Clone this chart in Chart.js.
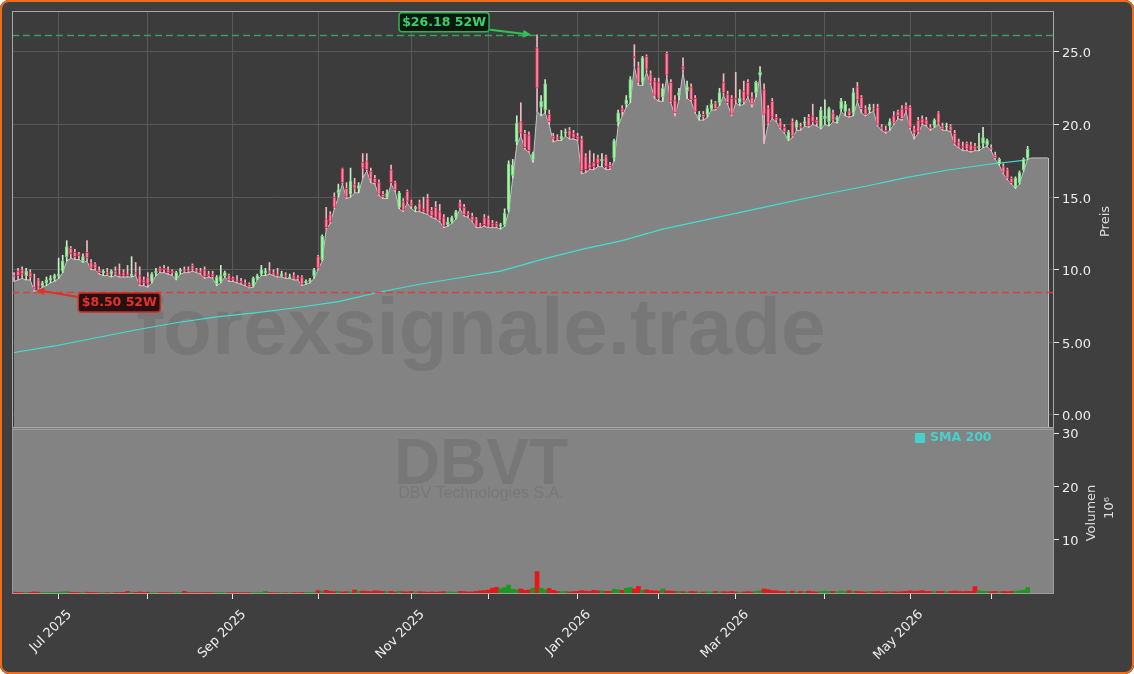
<!DOCTYPE html>
<html>
<head>
<meta charset="utf-8">
<script src="https://cdn.jsdelivr.net/npm/chart.js@4.4.1/dist/chart.umd.min.js"></script>
<style>
    html, body { margin: 0; padding: 0; background: #ffffff; }
    #wrap { position: absolute; left: 0; top: 0; width: 1134px; height: 674px; border-radius: 9px; overflow: hidden; background: #3f3f3f; }
    #frame { position: absolute; left: 0; top: 0; width: 1134px; height: 674px; box-sizing: border-box; border: 2px solid #f36b16; border-radius: 9px; pointer-events: none; }
</style>
</head>
<body>
<div id="wrap"><canvas id="chart"></canvas></div>
<div id="frame"></div>
<script>
'use strict';

// ── Data (one entry per trading day) ──
const opens = [
    9.6, 9.9, 10.0, 9.6, 9.8, 8.8, 9.3, 8.9, 9.1, 9.3, 9.4, 9.6, 9.9, 10.9, 11.5, 11.2, 11.1, 10.6, 11.2, 10.5,
    10.4, 10.0, 9.8, 9.8, 9.7, 9.9, 9.7, 9.8, 9.7, 9.6, 9.8, 9.6, 9.3, 9.5, 9.2, 9.8, 10.1, 10.1, 10.0, 9.9,
    9.4, 9.9, 10.0, 10.0, 10.3, 10.0, 9.9, 10.0, 9.7, 9.7, 9.0, 9.2, 9.6, 9.6, 9.4, 9.3, 9.2, 9.1, 9.0, 8.85,
    9.35, 9.7, 9.8, 9.9, 9.8, 9.7, 9.6, 9.6, 9.5, 9.6, 9.5, 9.5, 9.1, 9.2, 9.6, 10.9, 10.7, 13.5, 13.8, 15.0,
    15.3, 17.0, 15.6, 15.2, 15.9, 15.6, 17.4, 17.5, 16.8, 16.3, 16.0, 15.2, 15.0, 16.9, 16.0, 14.3, 14.7, 15.4, 14.6, 14.2,
    14.6, 14.2, 14.9, 14.1, 14.3, 14.0, 13.6, 13.1, 13.3, 13.6, 14.6, 14.3, 13.9, 13.7, 13.5, 13.1, 13.6, 13.5, 13.2, 13.2,
    13.0, 13.1, 14.1, 16.5, 18.8, 20.2, 19.4, 19.3, 17.6, 25.3, 21.2, 21.0, 20.7, 19.2, 19.1, 19.0, 19.4, 19.6, 19.4, 19.2,
    19.0, 17.8, 17.3, 17.4, 17.7, 17.5, 17.8, 17.2, 17.7, 20.2, 21.1, 21.4, 21.8, 24.7, 24.0, 22.9, 24.7, 23.5, 23.0, 22.9,
    21.9, 24.9, 22.9, 21.7, 22.0, 24.0, 22.3, 22.6, 21.8, 20.5, 20.7, 20.7, 21.1, 21.5, 21.5, 22.9, 22.1, 21.8, 21.8, 21.5,
    22.3, 22.9, 21.9, 22.2, 23.4, 22.4, 21.1, 21.6, 20.5, 20.2, 19.8, 19.0, 20.2, 19.8, 19.9, 20.1, 20.5, 20.6, 20.3, 19.8,
    20.4, 20.2, 20.8, 20.3, 21.1, 20.9, 20.9, 20.8, 22.6, 21.9, 21.1, 21.0, 21.1, 21.2, 19.8, 19.6, 19.9, 20.6, 20.9, 21.1,
    21.3, 21.2, 19.7, 20.3, 20.4, 20.3, 19.8, 19.9, 20.8, 19.9, 19.9, 19.9, 19.4, 18.8, 18.5, 18.7, 18.6, 18.5, 18.4, 18.7,
    18.6, 18.4, 17.9, 17.3, 17.1, 16.9, 16.3, 15.7, 16.0, 16.9, 17.7
];
const highs = [
    9.8, 10.1, 10.2, 10.1, 10.0, 9.7, 9.4, 9.2, 9.5, 9.6, 9.7, 10.8, 11.0, 12.0, 11.6, 11.4, 11.2, 11.1, 12.0, 10.7,
    10.5, 10.2, 10.0, 10.1, 10.0, 10.2, 10.4, 10.0, 10.3, 10.9, 10.5, 10.2, 9.5, 9.8, 9.8, 10.1, 10.2, 10.3, 10.2, 10.0,
    9.9, 10.1, 10.2, 10.2, 10.4, 10.1, 10.1, 10.2, 9.9, 9.9, 9.6, 10.3, 9.9, 9.7, 9.5, 9.6, 9.4, 9.3, 9.1, 9.5,
    9.7, 10.3, 10.1, 10.5, 10.0, 10.1, 9.9, 9.8, 9.7, 9.8, 9.6, 9.6, 9.3, 9.4, 10.1, 11.0, 12.4, 14.3, 14.0, 15.3,
    15.9, 17.0, 16.0, 17.0, 16.3, 16.0, 18.0, 18.0, 17.0, 16.5, 16.2, 15.4, 15.5, 17.2, 16.1, 15.4, 14.9, 15.5, 14.8, 14.4,
    14.8, 15.0, 15.2, 14.3, 14.7, 14.5, 13.8, 13.6, 13.7, 14.1, 14.8, 14.5, 14.0, 13.9, 13.6, 13.2, 13.8, 13.7, 13.4, 13.3,
    13.2, 14.2, 17.5, 17.6, 20.6, 21.5, 19.6, 19.5, 18.1, 26.18, 22.0, 23.1, 21.0, 19.4, 19.3, 19.6, 19.7, 19.8, 19.6, 19.4,
    19.2, 18.0, 18.2, 18.0, 17.9, 18.0, 17.9, 17.4, 19.0, 21.0, 21.3, 22.0, 23.3, 25.5, 24.3, 24.7, 24.8, 23.7, 23.2, 23.2,
    22.8, 25.0, 23.1, 22.0, 22.5, 24.6, 23.0, 22.8, 22.0, 20.9, 20.9, 21.3, 21.7, 21.6, 22.5, 23.5, 22.3, 22.0, 23.6, 22.4,
    23.0, 23.1, 22.2, 23.0, 24.0, 22.8, 21.3, 21.8, 20.7, 20.4, 20.0, 19.6, 20.4, 20.3, 20.1, 20.5, 20.7, 21.4, 20.5, 21.2,
    21.7, 21.2, 21.0, 20.6, 21.8, 21.6, 21.1, 22.5, 22.9, 22.0, 21.3, 21.4, 21.4, 21.4, 20.0, 19.9, 20.4, 20.9, 21.0, 21.3,
    21.5, 21.3, 19.9, 20.5, 20.6, 20.5, 20.0, 20.4, 20.9, 20.1, 20.1, 20.0, 19.6, 19.0, 18.8, 18.8, 18.8, 18.7, 19.4, 19.8,
    19.0, 18.6, 18.1, 17.7, 17.3, 17.0, 16.4, 16.4, 16.8, 17.7, 18.5
];
const lows = [
    9.2, 9.3, 9.4, 9.3, 9.3, 8.5, 8.6, 8.8, 8.9, 9.1, 9.2, 9.4, 9.8, 10.6, 10.8, 10.7, 10.7, 10.5, 10.6, 10.0,
    10.0, 9.7, 9.6, 9.6, 9.5, 9.6, 9.5, 9.5, 9.5, 9.5, 9.6, 8.9, 8.9, 8.8, 9.1, 9.6, 9.8, 9.8, 9.7, 9.6,
    9.3, 9.7, 9.8, 9.8, 9.9, 9.8, 9.7, 9.4, 9.5, 9.4, 8.9, 9.1, 9.5, 9.2, 9.2, 9.1, 9.0, 8.9, 8.75, 8.8,
    9.3, 9.6, 9.6, 9.7, 9.6, 9.5, 9.5, 9.4, 9.4, 9.3, 9.3, 8.9, 9.0, 9.1, 9.4, 10.0, 10.6, 12.8, 13.2, 14.2,
    15.0, 15.9, 14.9, 15.0, 15.3, 15.3, 16.3, 16.8, 16.0, 15.9, 15.1, 14.9, 14.9, 15.9, 15.4, 14.2, 14.0, 14.6, 14.2, 14.0,
    14.0, 13.9, 13.8, 13.6, 13.5, 13.3, 12.9, 13.0, 13.2, 13.5, 14.2, 13.7, 13.6, 13.3, 12.9, 12.9, 13.0, 12.9, 12.9, 12.9,
    12.8, 13.0, 14.0, 16.3, 18.6, 19.2, 18.3, 18.1, 17.4, 20.9, 20.6, 20.8, 20.0, 18.8, 18.9, 18.9, 19.2, 19.0, 19.0, 18.9,
    16.6, 16.7, 16.9, 16.9, 17.1, 17.1, 16.9, 16.9, 17.5, 19.9, 20.6, 21.2, 21.5, 24.0, 22.7, 22.7, 23.6, 22.8, 21.8, 21.6,
    21.6, 23.3, 21.5, 20.6, 21.7, 23.6, 21.8, 21.6, 20.8, 20.3, 20.3, 20.5, 21.0, 21.0, 21.3, 22.0, 21.4, 20.6, 21.5, 21.3,
    21.4, 21.9, 21.2, 21.9, 23.3, 18.7, 20.0, 20.4, 20.2, 19.7, 19.4, 18.9, 19.1, 19.6, 19.6, 19.9, 19.8, 20.0, 19.9, 19.7,
    20.0, 19.9, 20.2, 20.1, 20.9, 20.6, 20.5, 20.6, 21.6, 20.8, 20.6, 20.8, 20.9, 19.9, 19.6, 19.4, 19.6, 20.0, 20.4, 20.3,
    20.9, 19.7, 19.0, 19.4, 20.0, 19.9, 19.6, 19.8, 20.0, 19.6, 19.6, 19.5, 18.6, 18.4, 18.2, 18.2, 18.1, 18.2, 18.2, 18.4,
    18.5, 18.2, 17.6, 17.2, 16.6, 16.2, 15.9, 15.6, 15.9, 16.8, 17.6
];
const closes = [
    9.5, 9.6, 9.7, 9.9, 9.5, 8.65, 8.8, 9.1, 9.3, 9.4, 9.6, 9.7, 10.6, 11.6, 11.1, 10.9, 10.95, 10.9, 10.8, 10.1,
    10.1, 9.8, 9.9, 9.7, 9.9, 9.7, 9.6, 9.6, 9.6, 9.7, 9.7, 9.0, 9.1, 9.0, 9.7, 9.9, 9.9, 10.0, 9.8, 9.8,
    9.8, 10.0, 9.9, 9.9, 10.05, 9.9, 9.8, 9.5, 9.6, 9.5, 9.5, 9.6, 9.8, 9.3, 9.3, 9.2, 9.1, 9.0, 8.8, 9.4,
    9.6, 10.0, 9.9, 9.8, 9.7, 9.6, 9.7, 9.5, 9.5, 9.4, 9.4, 9.0, 9.2, 9.3, 10.0, 10.1, 12.3, 12.9, 13.3, 14.3,
    15.5, 16.0, 15.0, 16.1, 15.6, 15.8, 17.0, 16.9, 16.3, 16.0, 15.2, 15.0, 15.3, 16.0, 15.5, 15.3, 14.1, 14.7, 14.4, 14.3,
    14.1, 14.0, 13.9, 13.7, 13.6, 13.4, 13.0, 13.3, 13.6, 14.0, 14.3, 13.8, 13.8, 13.4, 13.0, 13.0, 13.1, 13.0, 13.0, 13.0,
    13.1, 13.9, 17.3, 17.2, 20.1, 19.4, 18.4, 18.2, 18.0, 22.5, 21.6, 22.8, 20.2, 19.0, 19.0, 19.2, 19.5, 19.2, 19.1, 19.0,
    16.8, 16.9, 17.0, 17.1, 17.3, 17.6, 17.1, 17.0, 18.9, 20.8, 20.9, 21.7, 23.1, 24.6, 22.9, 24.6, 23.8, 22.9, 22.0, 21.8,
    22.5, 23.4, 21.6, 20.8, 22.2, 23.8, 22.6, 21.7, 20.9, 20.7, 20.5, 21.1, 21.4, 21.1, 22.2, 22.2, 21.5, 20.7, 21.7, 21.8,
    21.6, 22.0, 21.4, 22.9, 23.6, 20.7, 20.1, 20.5, 20.3, 19.8, 19.5, 19.5, 19.2, 20.2, 19.8, 20.2, 19.9, 20.2, 20.1, 21.0,
    20.6, 21.1, 20.3, 20.5, 21.6, 21.4, 20.6, 22.2, 21.7, 21.1, 20.7, 21.2, 21.0, 20.0, 19.7, 19.5, 20.2, 20.1, 20.6, 20.4,
    21.0, 19.8, 19.4, 19.5, 20.1, 20.0, 19.7, 20.3, 20.1, 19.7, 19.9, 19.6, 18.7, 18.5, 18.4, 18.3, 18.2, 18.3, 18.5, 19.1,
    18.9, 18.3, 17.7, 17.6, 16.7, 16.3, 16.0, 16.3, 16.7, 17.6, 18.3
];
// volume in millions of shares
const volumes = [
    0.15, 0.12, 0.1, 0.1, 0.12, 0.2, 0.15, 0.1, 0.08, 0.1, 0.1, 0.15, 0.2, 0.25, 0.15, 0.12, 0.1, 0.1, 0.15, 0.12,
    0.1, 0.08, 0.1, 0.1, 0.08, 0.1, 0.1, 0.12, 0.3, 0.15, 0.12, 0.2, 0.1, 0.15, 0.1, 0.08, 0.1, 0.1, 0.08, 0.08,
    0.1, 0.12, 0.3, 0.1, 0.08, 0.1, 0.08, 0.1, 0.1, 0.08, 0.1, 0.1, 0.08, 0.1, 0.08, 0.08, 0.1, 0.08, 0.1, 0.1,
    0.1, 0.08, 0.3, 0.1, 0.08, 0.08, 0.1, 0.08, 0.08, 0.1, 0.08, 0.12, 0.1, 0.1, 0.15, 0.45, 0.3, 0.5, 0.3, 0.25,
    0.3, 0.2, 0.25, 0.2, 0.55, 0.3, 0.35, 0.3, 0.25, 0.4, 0.35, 0.3, 0.25, 0.3, 0.2, 0.35, 0.25, 0.2, 0.3, 0.2,
    0.25, 0.2, 0.15, 0.2, 0.15, 0.2, 0.25, 0.2, 0.15, 0.15, 0.3, 0.25, 0.2, 0.2, 0.3, 0.4, 0.45, 0.55, 0.9, 1.05,
    0.8, 1.0, 1.5, 0.7, 0.6, 0.75, 0.5, 0.55, 0.9, 4.0, 0.9, 0.6, 0.85, 0.5, 0.3, 0.25, 0.3, 0.2, 0.25, 0.3,
    0.45, 0.35, 0.3, 0.5, 0.4, 0.4, 0.3, 0.3, 0.7, 0.6, 0.5, 0.9, 1.0, 0.75, 1.25, 0.5, 0.6, 0.45, 0.4, 0.35,
    0.75, 0.4, 0.35, 0.3, 0.3, 0.25, 0.2, 0.3, 0.25, 0.2, 0.2, 0.25, 0.2, 0.3, 0.2, 0.25, 0.2, 0.3, 0.2, 0.15,
    0.2, 0.25, 0.2, 0.3, 0.4, 0.75, 0.6, 0.45, 0.4, 0.3, 0.3, 0.25, 0.35, 0.2, 0.3, 0.25, 0.35, 0.25, 0.2, 0.3,
    0.35, 0.3, 0.3, 0.25, 0.35, 0.3, 0.4, 0.3, 0.3, 0.25, 0.2, 0.3, 0.25, 0.3, 0.2, 0.25, 0.3, 0.25, 0.2, 0.25,
    0.3, 0.4, 0.3, 0.35, 0.45, 0.3, 0.3, 0.25, 0.3, 0.3, 0.25, 0.3, 0.35, 0.3, 0.25, 0.3, 0.3, 1.2, 0.4, 0.3,
    0.3, 0.25, 0.3, 0.25, 0.3, 0.25, 0.3, 0.35, 0.4, 0.5, 1.0
];
// gray area keeps running flat a few slots past the last candle
const areaTail = [17.7, 17.7, 17.7, 17.7, 17.7];

// SMA 200, read at every 10th trading day
const smaIdx  = [0, 10, 20, 30, 40, 50, 60, 70, 80, 90, 100, 110, 120, 130, 140, 150, 160, 170, 180, 190, 200, 210, 220, 230, 240, 250];
const smaVals = [4.3, 4.75, 5.3, 5.85, 6.35, 6.75, 7.05, 7.4, 7.8, 8.45, 9.0, 9.45, 9.9, 10.7, 11.4, 12.0, 12.8, 13.4, 14.0, 14.6, 15.2, 15.75, 16.35, 16.85, 17.25, 17.56];

// first trading day of each month → tick positions
const monthIdx    = [11, 33, 54, 75, 98, 117, 139, 159, 178, 200, 221, 241];
const monthLabels = ['Jul 2025', '', 'Sep 2025', '', 'Nov 2025', '', 'Jan 2026', '', 'Mar 2026', '', 'May 2026', ''];
const priceTicks  = [0, 5, 10, 15, 20, 25];
const volTicks    = [10, 20, 30];

const high52 = 26.18;
const low52  = 8.50;
const slotCount = 257;

// ── Derived series ───────────────────────────────────
const labels   = Array.from({ length: slotCount }, (_, i) => i);
const isUp     = closes.map((c, i) => c >= opens[i]);
const sma      = labels.map(i => { const k = smaIdx.indexOf(i); return k >= 0 ? smaVals[k] : null; });
const areaData = lows.concat(areaTail);
const iHigh    = highs.indexOf(high52);
const iLow     = lows.indexOf(low52);

const FONT = '"DejaVu Sans", sans-serif';
const TICK_COLOR = '#eeeeee';

// ── Decorations: panels, watermarks, 52W markers, legend, titles ──
const decor = {
    id: 'decor',
    beforeDraw(chart) {
        const { ctx, chartArea: a } = chart;
        const y = chart.scales.y;
        ctx.save();
        ctx.fillStyle = '#3f3f3f';
        ctx.fillRect(0, 0, chart.width, chart.height);
        ctx.fillStyle = '#3c3c3c';
        ctx.fillRect(a.left, y.top, a.right - a.left, y.bottom - y.top);
        ctx.restore();
    },
    beforeDatasetsDraw(chart) {
        const { ctx, chartArea: a } = chart;
        const yv = chart.scales.yv;
        ctx.save();
        ctx.fillStyle = '#838383';
        ctx.fillRect(a.left, yv.top, a.right - a.left, yv.bottom - yv.top);
        ctx.restore();
    },
    afterDatasetDraw(chart, args) {
        if (args.index !== 0) return;
        const { ctx, chartArea: a } = chart;
        const x = chart.scales.x, y = chart.scales.y;
        ctx.save();
        // closing edge of the gray area
        const ex = Math.round(x.getPixelForValue(areaData.length - 1)) + 0.5;
        ctx.strokeStyle = '#c4c4c4';
        ctx.lineWidth = 1;
        ctx.beginPath();
        ctx.moveTo(ex, y.getPixelForValue(areaData[areaData.length - 1]));
        ctx.lineTo(ex, y.bottom);
        ctx.stroke();

        const cx = (a.left + a.right) / 2 - 52;
        ctx.fillStyle = 'rgba(0,0,0,0.085)';
        ctx.textAlign = 'center';
        ctx.textBaseline = 'alphabetic';
        ctx.font = 'bold 80px "Liberation Sans", Arial, sans-serif';
        ctx.fillText('forexsignale.trade', cx, 354);
        ctx.font = 'bold 64px "Liberation Sans", Arial, sans-serif';
        ctx.fillText('DBVT', cx, 484);
        ctx.font = '16px "Liberation Sans", Arial, sans-serif';
        ctx.fillText('DBV Technologies S.A.', cx, 498);
        ctx.restore();
    },
    afterDatasetsDraw(chart) {
        const { ctx, chartArea: a } = chart;
        const x = chart.scales.x, y = chart.scales.y, yv = chart.scales.yv;
        ctx.save();

        // 52-week lines
        ctx.lineWidth = 1.5;
        ctx.setLineDash([7, 4]);
        [[high52, 'rgba(58,170,90,0.9)'], [low52, 'rgba(220,60,55,0.9)']].forEach(([v, col]) => {
            const py = Math.round(y.getPixelForValue(v)) + 0.5;
            ctx.strokeStyle = col;
            ctx.beginPath();
            ctx.moveTo(a.left, py);
            ctx.lineTo(a.right, py);
            ctx.stroke();
        });
        ctx.setLineDash([]);

        // 52-week labels with arrows
        const hx = x.getPixelForValue(iHigh), hy = y.getPixelForValue(high52);
        const lx = x.getPixelForValue(iLow),  ly = y.getPixelForValue(low52);
        drawTag(ctx, '$' + high52.toFixed(2) + ' 52W', hx - 138, hy - 22, 90, 19, '#3bd06a', '#2ab457', 'rgba(8,22,12,0.92)');
        drawArrow(ctx, hx - 47, hy - 5, hx - 6, hy, '#2ec25a');
        drawTag(ctx, '$' + low52.toFixed(2) + ' 52W', lx + 44, ly + 1.5, 82, 19, '#e8302c', '#d42a2a', 'rgba(30,8,8,0.92)');
        drawArrow(ctx, lx + 44, ly + 5.5, lx + 2, ly - 1.5, '#e0302c');

        // panel borders
        ctx.strokeStyle = '#a8a8a8';
        ctx.lineWidth = 1;
        ctx.strokeRect(a.left + 0.5, y.top + 0.5, a.right - a.left - 1, y.bottom - y.top - 1);
        ctx.strokeStyle = '#9c9c9c';
        ctx.strokeRect(a.left + 0.5, yv.top + 1.5, a.right - a.left - 1, yv.bottom - yv.top - 2);

        // legend
        ctx.fillStyle = '#48d1cc';
        ctx.fillRect(915, yv.top + 5, 10, 10);
        ctx.font = 'bold 12.5px ' + FONT;
        ctx.textBaseline = 'middle';
        ctx.textAlign = 'left';
        ctx.fillText('SMA 200', 930, yv.top + 10);

        // axis titles
        ctx.fillStyle = '#dddddd';
        ctx.font = '13px ' + FONT;
        ctx.textAlign = 'center';
        rotatedText(ctx, 'Preis', 1106, (y.top + y.bottom) / 2 + 2);
        rotatedText(ctx, 'Volumen', 1092, 513);
        rotatedText(ctx, '10\u2076', 1110, 508);
        ctx.restore();
    }
};

function drawTag(ctx, text, left, top, w, h, textCol, borderCol, bg) {
    const r = 3;
    ctx.beginPath();
    ctx.moveTo(left + r, top);
    ctx.arcTo(left + w, top, left + w, top + h, r);
    ctx.arcTo(left + w, top + h, left, top + h, r);
    ctx.arcTo(left, top + h, left, top, r);
    ctx.arcTo(left, top, left + w, top, r);
    ctx.closePath();
    ctx.fillStyle = bg;
    ctx.fill();
    ctx.lineWidth = 1.5;
    ctx.strokeStyle = borderCol;
    ctx.stroke();
    ctx.fillStyle = textCol;
    ctx.font = 'bold 12.5px ' + FONT;
    ctx.textAlign = 'center';
    ctx.textBaseline = 'middle';
    ctx.fillText(text, left + w / 2, top + h / 2 + 0.5);
}

function drawArrow(ctx, x0, y0, x1, y1, col) {
    const ang = Math.atan2(y1 - y0, x1 - x0);
    ctx.strokeStyle = col;
    ctx.fillStyle = col;
    ctx.lineWidth = 2;
    ctx.beginPath();
    ctx.moveTo(x0, y0);
    ctx.lineTo(x1 - 6 * Math.cos(ang), y1 - 6 * Math.sin(ang));
    ctx.stroke();
    ctx.beginPath();
    ctx.moveTo(x1, y1);
    ctx.lineTo(x1 - 8 * Math.cos(ang) + 4 * Math.sin(ang), y1 - 8 * Math.sin(ang) - 4 * Math.cos(ang));
    ctx.lineTo(x1 - 8 * Math.cos(ang) - 4 * Math.sin(ang), y1 - 8 * Math.sin(ang) + 4 * Math.cos(ang));
    ctx.closePath();
    ctx.fill();
}

function rotatedText(ctx, text, cx, cy) {
    ctx.save();
    ctx.translate(cx, cy);
    ctx.rotate(-Math.PI / 2);
    ctx.textBaseline = 'middle';
    ctx.fillText(text, 0, 0);
    ctx.restore();
}

// ── Chart ─────────────────────────────────────────────
new Chart(document.getElementById('chart'), {
    type: 'bar',
    data: {
        labels,
        datasets: [
            {
                type: 'line', label: 'area', yAxisID: 'y', order: 10,
                data: areaData,
                fill: 'start', backgroundColor: '#838383',
                borderColor: '#c4c4c4', borderWidth: 1, pointRadius: 0, tension: 0,
            },
            {
                type: 'line', label: 'SMA 200', yAxisID: 'y', order: 5,
                data: sma, spanGaps: true,
                borderColor: '#40e0d0', borderWidth: 1.2, pointRadius: 0, fill: false,
            },
            {
                label: 'wicks', yAxisID: 'y', order: 2, grouped: false,
                data: highs.map((h, i) => [lows[i], h]),
                barThickness: 1,
                backgroundColor: isUp.map(u => u ? '#c6efc6' : '#f2b6c4'),
            },
            {
                label: 'bodies', yAxisID: 'y', order: 1, grouped: false,
                data: opens.map((o, i) => [o, closes[i]]),
                barThickness: 3, minBarLength: 1, borderSkipped: false, borderWidth: 1,
                backgroundColor: isUp.map(u => u ? '#b4ecb4' : '#f48ca4'),
                borderColor: isUp.map(u => u ? '#6fd87a' : '#e0305c'),
            },
            {
                label: 'volume', yAxisID: 'yv', order: 3, grouped: false,
                data: volumes,
                barPercentage: 1, categoryPercentage: 1,
                backgroundColor: isUp.map(u => u ? '#1f961f' : '#e8161a'),
            },
        ],
    },
    options: {
        responsive: true,
        maintainAspectRatio: false,
        animation: false,
        events: [],
        layout: { padding: { left: 12, top: 11, right: 0, bottom: 0 } },
        plugins: { legend: { display: false }, tooltip: { enabled: false } },
        scales: {
            x: {
                afterFit: s => { s.height = 80; },
                afterBuildTicks: s => { s.ticks = monthIdx.map(v => ({ value: v })); },
                grid: { color: '#595959', offset: false, tickLength: 5, tickColor: '#e6e6e6' },
                border: { display: false },
                ticks: {
                    autoSkip: false, maxRotation: 45, minRotation: 45, padding: 8, labelOffset: 11,
                    color: TICK_COLOR, font: { family: FONT, size: 13 },
                    callback: (v, k) => monthLabels[k],
                },
            },
            y: {
                position: 'right', stack: 'p', stackWeight: 417,
                min: -0.9, max: 27.82,
                afterFit: s => { s.width = 80; },
                afterBuildTicks: s => { s.ticks = priceTicks.map(v => ({ value: v })); },
                grid: { color: '#595959', tickLength: 5, tickColor: '#e6e6e6' },
                border: { display: false },
                ticks: {
                    padding: 3, labelOffset: 2, color: TICK_COLOR, font: { family: FONT, size: 13 },
                    callback: v => v >= 10 ? v.toFixed(1) : v.toFixed(2),
                },
            },
            yv: {
                position: 'right', stack: 'p', stackWeight: 166,
                min: -0.19, max: 30.95,
                afterFit: s => { s.width = 80; },
                afterBuildTicks: s => { s.ticks = volTicks.map(v => ({ value: v })); },
                grid: { drawOnChartArea: false, tickLength: 5, tickColor: '#e6e6e6' },
                border: { display: false },
                ticks: { padding: 3, labelOffset: 2, color: TICK_COLOR, font: { family: FONT, size: 13 } },
            },
        },
    },
    plugins: [decor],
});
</script>
</body>
</html>
